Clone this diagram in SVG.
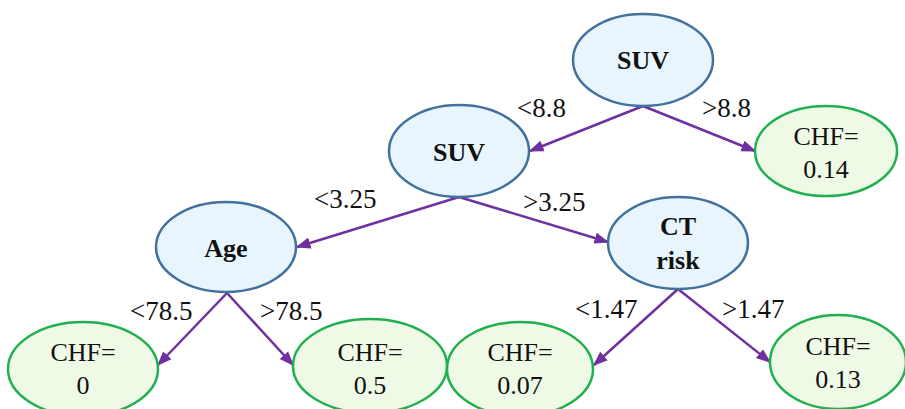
<svg xmlns="http://www.w3.org/2000/svg" width="905" height="409" viewBox="0 0 905 409">
<defs>
<marker id="ah" viewBox="0 0 10 10" refX="9" refY="5" markerWidth="6" markerHeight="6" markerUnits="strokeWidth" orient="auto">
<path d="M0,1.2 L10,5 L0,8.8 z" fill="#7030a0"/>
</marker>
<style>
.dec ellipse{fill:#e8f5fd;stroke:#41719c;stroke-width:2.5}
.leaf ellipse{fill:#effae6;stroke:#20b050;stroke-width:2.5}
text{font-family:"Liberation Serif","Times New Roman",serif;fill:#111}
.dec text{font-weight:bold;font-size:26px;text-anchor:middle}
.leaf text{font-size:26px;text-anchor:middle}
.edge line{stroke:#7030a0;stroke-width:2.5;marker-end:url(#ah)}
.lbl{font-size:27px}
</style>
</defs>
<rect width="905" height="409" fill="#fff"/>
<g class="edge" id="connectors">
<line x1="643" y1="106" x2="530" y2="151"/>
<line x1="643" y1="106" x2="755" y2="151"/>
<line x1="459" y1="197" x2="297" y2="247"/>
<line x1="459" y1="197" x2="608" y2="242"/>
<line x1="227" y1="293" x2="158" y2="365"/>
<line x1="227" y1="293" x2="293" y2="365"/>
<line x1="678" y1="289" x2="594" y2="365"/>
<line x1="678" y1="289" x2="770" y2="362"/>
</g>
<g id="labels">
<text class="lbl" x="517" y="117">&lt;8.8</text>
<text class="lbl" x="702" y="117">&gt;8.8</text>
<text class="lbl" x="314" y="208">&lt;3.25</text>
<text class="lbl" x="523" y="211">&gt;3.25</text>
<text class="lbl" x="130" y="320">&lt;78.5</text>
<text class="lbl" x="260" y="320">&gt;78.5</text>
<text class="lbl" x="575" y="318">&lt;1.47</text>
<text class="lbl" x="722" y="318">&gt;1.47</text>
</g>
<g id="n-suv1" class="dec"><ellipse cx="643" cy="60" rx="70" ry="46"/><text x="643" y="69">SUV</text></g>
<g id="n-suv2" class="dec"><ellipse cx="459" cy="151" rx="70" ry="46"/><text x="459" y="161">SUV</text></g>
<g id="n-age" class="dec"><ellipse cx="226" cy="247" rx="70" ry="45"/><text x="226" y="257">Age</text></g>
<g id="n-ct" class="dec"><ellipse cx="678" cy="243" rx="70" ry="46"/><text x="678" y="235">CT</text><text x="678" y="269">risk</text></g>
<g id="n-l014" class="leaf"><ellipse cx="826" cy="151" rx="71" ry="45"/><text x="826" y="145">CHF=</text><text x="826" y="178">0.14</text></g>
<g id="n-l0" class="leaf"><ellipse cx="83" cy="369" rx="75" ry="47"/><text x="83" y="361">CHF=</text><text x="83" y="394">0</text></g>
<g id="n-l05" class="leaf"><ellipse cx="370" cy="366" rx="77" ry="47"/><text x="370" y="361">CHF=</text><text x="370" y="394">0.5</text></g>
<g id="n-l007" class="leaf"><ellipse cx="520" cy="369" rx="73" ry="47"/><text x="520" y="361">CHF=</text><text x="520" y="394">0.07</text></g>
<g id="n-l013" class="leaf"><ellipse cx="838" cy="362" rx="68" ry="47"/><text x="838" y="355">CHF=</text><text x="838" y="388">0.13</text></g>
</svg>
